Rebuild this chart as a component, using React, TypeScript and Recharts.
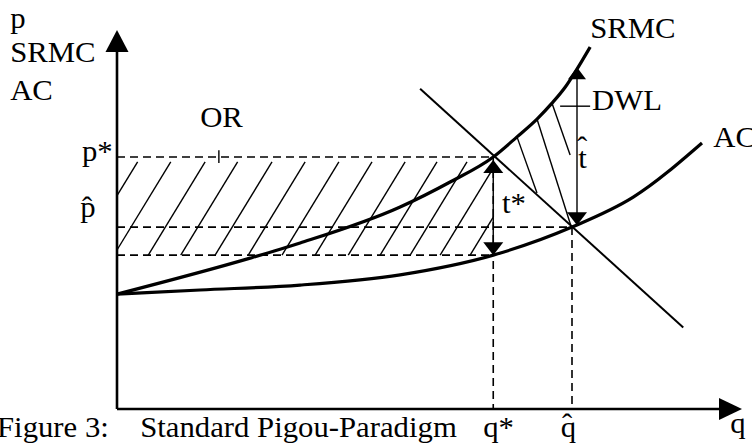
import { ComposedChart, Line, XAxis, YAxis, ReferenceLine, ReferenceDot } from 'recharts'

const FONT = '"Liberation Serif", "Times New Roman", serif'

// q runs 0..100 along the quantity axis, p runs 0..100 up the price axis
const srmcCurve = [
  { q: 0, p: 30.3 }, { q: 21.3, p: 39.8 }, { q: 29.3, p: 43.8 }, { q: 45.3, p: 53.3 },
  { q: 53.3, p: 59.9 }, { q: 60.2, p: 66.5 }, { q: 64.0, p: 71.8 }, { q: 67.2, p: 76.5 },
  { q: 69.6, p: 80.7 }, { q: 71.7, p: 84.9 }, { q: 73.3, p: 88.9 }, { q: 75.7, p: 95.5 },
]
const acCurve = [
  { q: 0, p: 30.3 }, { q: 13.3, p: 31.4 }, { q: 29.3, p: 32.7 }, { q: 45.3, p: 35.4 },
  { q: 60.2, p: 40.6 }, { q: 72.8, p: 48.0 }, { q: 82.6, p: 55.9 }, { q: 93.6, p: 70.2 },
]
const demandLine = [{ q: 48.5, p: 84.5 }, { q: 90.6, p: 21.5 }]

const priceLevels = { pStar: 66.5, pHat: 48.0, pLow: 40.6 }
const quantityLevels = { qStar: 60.2, qHat: 72.8 }

// where each OR hatch stroke meets the lower dashed line
const orHatchStarts = [-5.8, -0.5, 5.0, 10.2, 15.7, 21.0, 26.4, 31.7, 37.0, 42.1, 46.9, 51.7, 56.5]
const HATCH_TOP = 65.2
const HATCH_RUN = 9.1

// DWL hatch strokes: [top on SRMC, bottom near demand]
const dwlHatches = [
  [{ q: 64.0, p: 71.8 }, { q: 67.2, p: 57.0 }],
  [{ q: 67.2, p: 76.5 }, { q: 72.6, p: 48.5 }],
  [{ q: 69.6, p: 80.7 }, { q: 72.5, p: 67.0 }],
]

const labels = [
  { text: 'p', q: -17.1, p: 100.5 },
  { text: 'SRMC', q: -17.1, p: 91.6 },
  { text: 'AC', q: -17.1, p: 81.5 },
  { text: 'OR', q: 13.3, p: 74.4 },
  { text: 'p*', q: -5.6, p: 65.4 },
  { text: 'p', q: -5.9, p: 50.7 },
  { text: 'ˆ', q: -4.8, p: 50.7, anchor: 'middle' },
  { text: 't*', q: 61.6, p: 51.7 },
  { text: 't', q: 73.8, p: 63.6 },
  { text: 'ˆ', q: 74.4, p: 66.5, anchor: 'middle' },
  { text: 'DWL', q: 76.0, p: 78.9 },
  { text: 'AC', q: 95.4, p: 69.1 },
  { text: 'SRMC', q: 75.7, p: 97.9 },
  { text: 'Figure 3:', q: -19.2, p: -7.4 },
  { text: 'Standard Pigou-Paradigm', q: 3.7, p: -7.4 },
  { text: 'q*', q: 58.6, p: -7.4 },
  { text: 'q', q: 71.0, p: -7.4 },
  { text: 'ˆ', q: 72.0, p: -6.6, anchor: 'middle' },
  { text: 'q', q: 98.1, p: -6.3 },
]

function orHatch(q0: number) {
  const { pLow } = priceLevels
  const { qStar } = quantityLevels
  const pAt = (q: number) => pLow + ((q - q0) / HATCH_RUN) * (HATCH_TOP - pLow)
  const a = q0 < 0 ? { x: 0, y: pAt(0) } : { x: q0, y: pLow }
  const q1 = q0 + HATCH_RUN
  const b = q1 > qStar ? { x: qStar, y: pAt(qStar) } : { x: q1, y: HATCH_TOP }
  return [a, b]
}

const arrowHead = (dir: string, len: number, half: number) => (props: any) => {
  const { cx, cy } = props
  let pts = ''
  if (dir === 'up') pts = `${cx},${cy} ${cx - half},${cy + len} ${cx + half},${cy + len}`
  if (dir === 'down') pts = `${cx},${cy} ${cx - half},${cy - len} ${cx + half},${cy - len}`
  if (dir === 'right') pts = `${cx},${cy} ${cx - len},${cy - half} ${cx - len},${cy + half}`
  return <polygon points={pts} fill="#000" />
}

// the original lettering is a little wider than Liberation Serif, so stretch it slightly
const textShape = (txt: string, anchor = 'start') => (props: any) => (
  <text
    transform={`translate(${props.cx},${props.cy}) scale(1.06,1)`}
    fontFamily={FONT}
    fontSize={29}
    textAnchor={anchor}
    fill="#000"
  >
    {txt}
  </text>
)

export default function App() {
  const { pStar, pHat, pLow } = priceLevels
  const { qStar, qHat } = quantityLevels
  const dash = { stroke: '#000', strokeWidth: 1.6, strokeDasharray: '8 5', ifOverflow: 'visible' as const }
  const thin = { stroke: '#000', strokeWidth: 1.4, ifOverflow: 'visible' as const }

  return (
    <div style={{ position: 'fixed', left: 0, top: 0, background: '#fff' }}>
      <ComposedChart width={752} height={443} margin={{ top: 30, right: 10, bottom: 34, left: 117 }}>
        <XAxis dataKey="q" type="number" domain={[0, 100]} hide />
        <YAxis type="number" domain={[0, 100]} hide />

        {/* dashed guides */}
        <ReferenceLine segment={[{ x: 0, y: pStar }, { x: qStar, y: pStar }]} {...dash} />
        <ReferenceLine segment={[{ x: 0, y: pHat }, { x: qHat, y: pHat }]} {...dash} />
        <ReferenceLine segment={[{ x: 0, y: pLow }, { x: qStar, y: pLow }]} {...dash} />
        <ReferenceLine segment={[{ x: qStar, y: pStar }, { x: qStar, y: 0 }]} {...dash} />
        <ReferenceLine segment={[{ x: qHat, y: pHat }, { x: qHat, y: 0 }]} {...dash} />

        {/* OR hatching */}
        {orHatchStarts.map((q0, i) => (
          <ReferenceLine key={`or-${i}`} segment={orHatch(q0)} {...thin} />
        ))}
        {/* DWL hatching */}
        {dwlHatches.map((seg, i) => (
          <ReferenceLine key={`dwl-${i}`} segment={seg.map((d) => ({ x: d.q, y: d.p }))} {...thin} />
        ))}

        {/* ticks pointing at labels */}
        <ReferenceLine segment={[{ x: 16.3, y: 68.3 }, { x: 16.3, y: 64.9 }]} {...thin} />
        <ReferenceLine segment={[{ x: 70.9, y: 79.9 }, { x: 75.7, y: 79.9 }]} {...thin} />

        {/* tax arrows */}
        <ReferenceLine segment={[{ x: qStar, y: 64 }, { x: qStar, y: pLow + 2 }]} {...thin} />
        <ReferenceDot x={qStar} y={65.7} ifOverflow="visible" shape={arrowHead('up', 13, 10)} />
        <ReferenceDot x={qStar} y={pLow} ifOverflow="visible" shape={arrowHead('down', 13, 10)} />
        <ReferenceLine segment={[{ x: 73.6, y: 88 }, { x: 73.6, y: 50 }]} {...thin} />
        <ReferenceDot x={73.6} y={90.2} ifOverflow="visible" shape={arrowHead('up', 12, 9)} />
        <ReferenceDot x={73.6} y={48.5} ifOverflow="visible" shape={arrowHead('down', 13, 10)} />

        <Line data={demandLine} dataKey="p" type="linear" stroke="#000" strokeWidth={2} dot={false} isAnimationActive={false} />
        <Line data={srmcCurve} dataKey="p" type="monotone" stroke="#000" strokeWidth={3.2} dot={false} isAnimationActive={false} />
        <Line data={acCurve} dataKey="p" type="monotone" stroke="#000" strokeWidth={3.2} dot={false} isAnimationActive={false} />

        {/* axes */}
        <ReferenceLine segment={[{ x: 0, y: 0 }, { x: 0, y: 96 }]} stroke="#000" strokeWidth={2.6} ifOverflow="visible" />
        <ReferenceLine segment={[{ x: 0, y: 0 }, { x: 97, y: 0 }]} stroke="#000" strokeWidth={2.6} ifOverflow="visible" />
        <ReferenceDot x={0} y={100} ifOverflow="visible" shape={arrowHead('up', 22, 11.5)} />
        <ReferenceDot x={100} y={0} ifOverflow="visible" shape={arrowHead('right', 23, 11)} />

        {labels.map((l, i) => (
          <ReferenceDot key={`lbl-${i}`} x={l.q} y={l.p} ifOverflow="visible" shape={textShape(l.text, l.anchor)} />
        ))}
      </ComposedChart>
    </div>
  )
}
